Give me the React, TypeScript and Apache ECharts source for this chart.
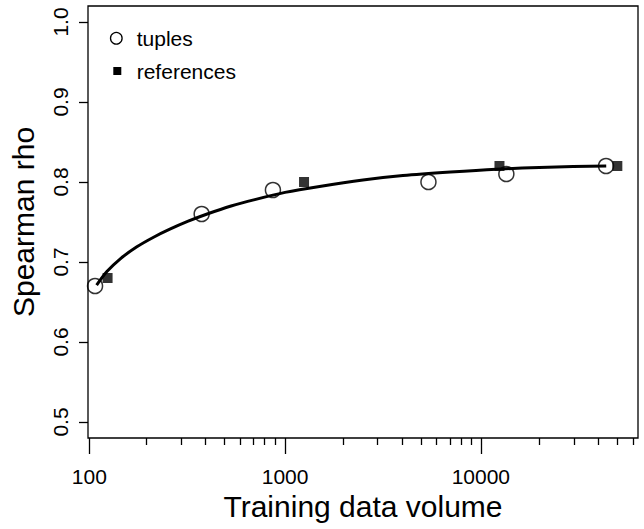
import React, { useEffect, useRef } from "react";
import * as echarts from "echarts";

// ---- data ----
const tuplesX = [107, 375, 867, 5400, 13500, 43600];
const tuplesY = [0.67, 0.76, 0.79, 0.8, 0.81, 0.82];

const refsX = [124, 1250, 12450, 49800];
const refsY = [0.68, 0.8, 0.82, 0.82];

// fitted curve
const curveX = [109, 123, 144, 175, 213, 258, 320, 400, 530, 700, 1000, 1500, 2500, 4000, 7000, 12000, 22000, 43700];
const curveY = [0.671, 0.688, 0.704, 0.719, 0.731, 0.741, 0.751, 0.76, 0.77, 0.778, 0.787, 0.7945, 0.8025, 0.808, 0.8125, 0.816, 0.8185, 0.82];

const yTicks = [0.5, 0.6, 0.7, 0.8, 0.9, 1.0];
const xMajorTicks = [100, 1000, 10000];
const xMinorTicks = [
  200, 300, 400, 500, 600, 700, 800, 900,
  2000, 3000, 4000, 5000, 6000, 7000, 8000, 9000,
  20000, 30000, 40000, 50000, 60000,
];

const X_MIN = 98.5;
const X_MAX = 63500;
const Y_MIN = 0.48;
const Y_MAX = 1.02;

const FONT = "'Liberation Sans', Arial, Helvetica, sans-serif";

export default function App() {
  const ref = useRef<HTMLDivElement>(null);

  useEffect(() => {
    if (!ref.current) return;
    const chart = echarts.init(ref.current, null, { renderer: "svg" });
    const lg = (v: number) => Math.log10(v);
    const gridBox = { left: 86, top: 6, width: 552, height: 432 };

    chart.setOption({
      animation: false,
      backgroundColor: "#fff",
      textStyle: { fontFamily: FONT },
      grid: [
        { ...gridBox, show: true, borderColor: "#000", borderWidth: 1.3, backgroundColor: "transparent" },
        { ...gridBox, show: false },
      ],
      xAxis: [
        {
          type: "value",
          gridIndex: 0,
          min: lg(X_MIN),
          max: lg(X_MAX),
          splitLine: { show: false },
          axisLine: { show: false },
          axisTick: {
            show: true,
            length: 16,
            lineStyle: { color: "#000", width: 1.3 },
            customValues: xMajorTicks.map(lg),
          },
          axisLabel: {
            show: true,
            customValues: xMajorTicks.map(lg),
            formatter: (v: number) => String(Math.round(Math.pow(10, v))),
            color: "#000",
            fontSize: 21,
            fontFamily: FONT,
            margin: 28,
          },
          name: "Training data volume",
          nameLocation: "middle",
          nameGap: 52,
          nameTextStyle: { color: "#000", fontSize: 30, fontFamily: FONT },
        },
        {
          type: "value",
          gridIndex: 1,
          min: lg(X_MIN),
          max: lg(X_MAX),
          splitLine: { show: false },
          axisLine: { show: false },
          axisTick: {
            show: true,
            length: 7,
            lineStyle: { color: "#000", width: 1.3 },
            customValues: xMinorTicks.map(lg),
          },
          axisLabel: { show: false },
        },
      ],
      yAxis: [
        {
          type: "value",
          gridIndex: 0,
          min: Y_MIN,
          max: Y_MAX,
          splitLine: { show: false },
          axisLine: { show: false },
          axisTick: {
            show: true,
            length: 9,
            lineStyle: { color: "#000", width: 1.3 },
            customValues: yTicks,
          },
          axisLabel: {
            show: true,
            customValues: yTicks,
            formatter: (v: number) => v.toFixed(1),
            rotate: 90,
            color: "#000",
            fontSize: 21,
            fontFamily: FONT,
            margin: 17,
          },
          name: "Spearman rho",
          nameLocation: "middle",
          nameGap: 50,
          nameTextStyle: { color: "#000", fontSize: 30, fontFamily: FONT },
        },
        {
          type: "value",
          gridIndex: 1,
          min: Y_MIN,
          max: Y_MAX,
          show: false,
        },
      ],
      series: [
        {
          name: "fit",
          type: "line",
          xAxisIndex: 0,
          yAxisIndex: 0,
          data: curveX.map((x, i) => [lg(x), curveY[i]]),
          smooth: 0.3,
          showSymbol: false,
          lineStyle: { color: "#000", width: 3 },
          z: 2,
        },
        {
          name: "tuples",
          type: "scatter",
          xAxisIndex: 0,
          yAxisIndex: 0,
          data: tuplesX.map((x, i) => [lg(x), tuplesY[i]]),
          symbol: "circle",
          symbolSize: 15,
          itemStyle: { color: "rgba(0,0,0,0)", borderColor: "#000", borderWidth: 1.5 },
          z: 3,
        },
        {
          name: "references",
          type: "scatter",
          xAxisIndex: 0,
          yAxisIndex: 0,
          data: refsX.map((x, i) => [lg(x), refsY[i]]),
          symbol: "rect",
          symbolSize: 10,
          itemStyle: { color: "#000" },
          z: 3,
        },
      ],
      graphic: [
        {
          type: "circle",
          shape: { cx: 116.3, cy: 38.3, r: 5.8 },
          style: { fill: "none", stroke: "#000", lineWidth: 1.3 },
        },
        {
          type: "rect",
          shape: { x: 113.3, y: 67, width: 8, height: 8 },
          style: { fill: "#000" },
        },
        {
          type: "text",
          x: 136.7,
          y: 38.5,
          style: { text: "tuples", fill: "#000", fontSize: 21, fontFamily: FONT, verticalAlign: "middle" },
        },
        {
          type: "text",
          x: 136.7,
          y: 71.5,
          style: { text: "references", fill: "#000", fontSize: 21, fontFamily: FONT, verticalAlign: "middle" },
        },
      ],
    });

    return () => chart.dispose();
  }, []);

  return (
    <div
      ref={ref}
      style={{ position: "fixed", left: 0, top: 0, width: 644, height: 529, background: "#fff" }}
    />
  );
}
